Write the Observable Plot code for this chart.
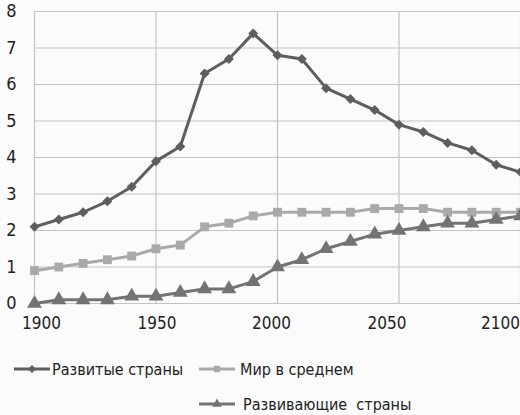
<!DOCTYPE html>
<html><head><meta charset="utf-8">
<script src="https://cdn.jsdelivr.net/npm/d3@7"></script>
<script src="https://cdn.jsdelivr.net/npm/@observablehq/plot@0.6"></script>
<style>
html,body{margin:0;padding:0;background:#fbfbfb;}
body{width:520px;height:415px;overflow:hidden;font-family:"DejaVu Sans Condensed",sans-serif;}
#legend{position:relative;height:77px;font-size:16px;color:#222;}
.item{position:absolute;display:flex;align-items:center;white-space:nowrap;}
</style></head>
<body>
<div id="chart"></div>
<div id="legend"></div>
<script>
const years = [1900,1910,1920,1930,1940,1950,1960,1970,1980,1990,2000,2010,2020,2030,2040,2050,2060,2070,2080,2090,2100];
const developed = [2.1,2.3,2.5,2.8,3.2,3.9,4.3,6.3,6.7,7.4,6.8,6.7,5.9,5.6,5.3,4.9,4.7,4.4,4.2,3.8,3.6];
const world = [0.9,1.0,1.1,1.2,1.3,1.5,1.6,2.1,2.2,2.4,2.5,2.5,2.5,2.5,2.6,2.6,2.6,2.5,2.5,2.5,2.5];
const developing = [0,0.1,0.1,0.1,0.2,0.2,0.3,0.4,0.4,0.6,1.0,1.2,1.5,1.7,1.9,2.0,2.1,2.2,2.2,2.3,2.4];
const seriesNames = ["Развитые страны","Мир в среднем","Развивающие  страны"];
const xTicks = [1900,1950,2000,2050,2100];
const yTicks = [0,1,2,3,4,5,6,7,8];

const xLabelShift = [7, 1, -6, -12, -20];
const styles = [
  {name: seriesNames[0], values: developed, color: "#5e5e5e", symbol: "diamond2", r: 4.5},
  {name: seriesNames[1], values: world, color: "#a9a9a9", symbol: "square", r: 5},
  {name: seriesNames[2], values: developing, color: "#737373", symbol: "triangle", r: 5.5}
];
const rows = styles.flatMap(s => years.map((y,i) => ({year: y, value: s.values[i], series: s.name})));

const marks = [
  Plot.gridY(yTicks, {stroke: "#c4c4c4", strokeOpacity: 1, strokeWidth: 1.2}),
  Plot.gridX(xTicks, {stroke: "#c4c4c4", strokeOpacity: 1, strokeWidth: 1.2}),
  Plot.axisY(yTicks, {tickSize: 0, tickPadding: 18, fontSize: 18, label: null, tickFormat: d => String(d)}),
  ...xTicks.map((t, i) => Plot.axisX([t], {tickSize: 0, tickPadding: 13, fontSize: 17, label: null, dx: xLabelShift[i], tickFormat: d => String(d), textAnchor: "middle"}))
];
for (const s of [styles[1], styles[2], styles[0]]) {
  const d = rows.filter(r => r.series === s.name);
  marks.push(Plot.line(d, {x: "year", y: "value", stroke: s.color, strokeWidth: 3, curve: "linear"}));
  marks.push(Plot.dot(d, {x: "year", y: "value", fill: s.color, stroke: "none", symbol: s.symbol, r: s.r}));
}

const chart = Plot.plot({
  width: 520, height: 338,
  marginLeft: 34, marginRight: 0, marginTop: 11, marginBottom: 35,
  style: {background: "transparent", fontFamily: "'DejaVu Sans Condensed',sans-serif", color: "#222", overflow: "visible"},
  x: {domain: [1900, 2100], label: null},
  y: {domain: [0, 8], label: null},
  marks
});
document.getElementById("chart").appendChild(chart);

// legend
const legend = document.getElementById("legend");
const pos = [{left: 14, top: 31, gap: 2}, {left: 199, top: 31, gap: 5}, {left: 199, top: 66, gap: 8}];
styles.forEach((s, i) => {
  const div = document.createElement("div");
  div.className = "item";
  div.style.left = pos[i].left + "px";
  div.style.top = (pos[i].top - 12) + "px";
  div.style.gap = pos[i].gap + "px";
  const sym = d3.symbol(s.symbol === "diamond2" ? d3.symbolDiamond2 : s.symbol === "square" ? d3.symbolSquare : d3.symbolTriangle, 40)();
  div.innerHTML = `<svg width="36" height="24"><line x1="0" x2="36" y1="12" y2="12" stroke="${s.color}" stroke-width="3"/><path d="${sym}" transform="translate(18,12)" fill="${s.color}"/></svg><span>${s.name.replace(/  /g," &nbsp;")}</span>`;
  legend.appendChild(div);
});
</script>
</body></html>
